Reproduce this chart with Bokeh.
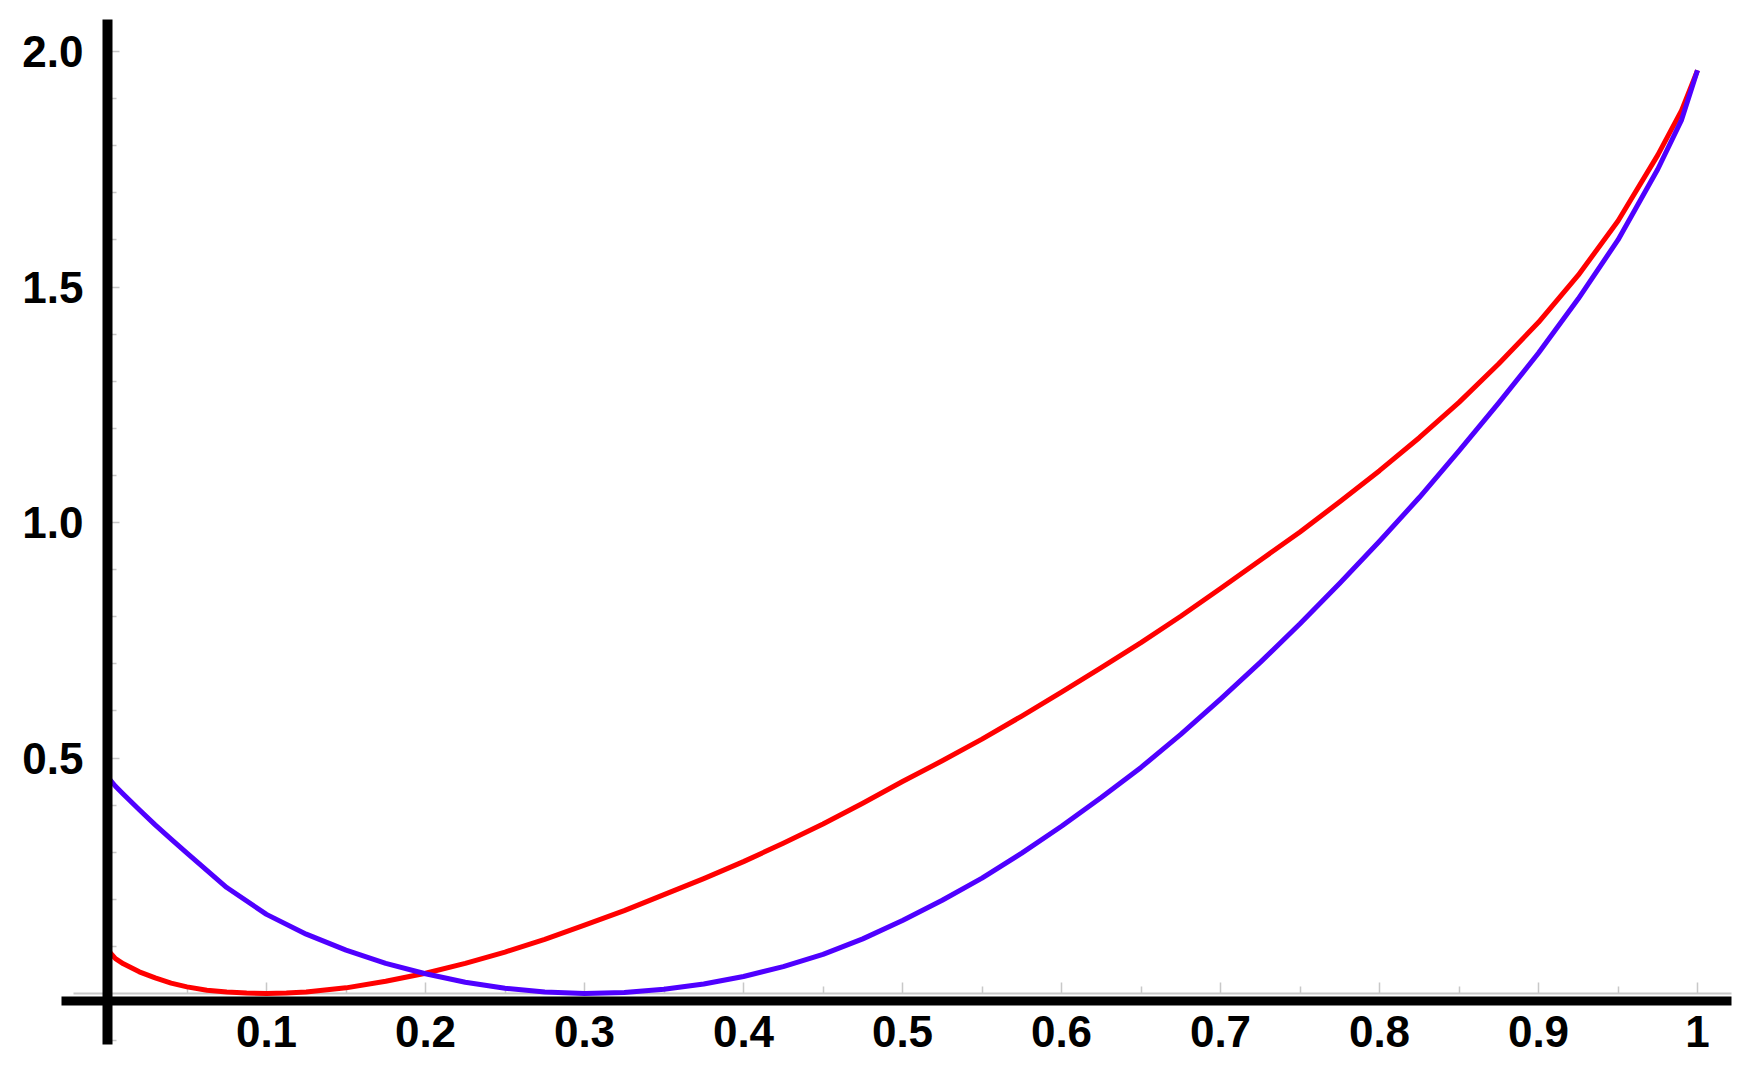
from bokeh.plotting import figure
from bokeh.models import Range1d, FixedTicker, LinearAxis, ColumnDataSource
from bokeh.embed import file_html
from bokeh.resources import INLINE

# ---- data ----
red_x = [0, 0.005, 0.01, 0.02, 0.03, 0.04, 0.05, 0.0625, 0.075, 0.0875, 0.1, 0.1125,
         0.125, 0.15, 0.175, 0.2, 0.225, 0.25, 0.275, 0.3, 0.325, 0.35, 0.375, 0.4,
         0.425, 0.45, 0.475, 0.5, 0.525, 0.55, 0.575, 0.6, 0.625, 0.65, 0.675, 0.7,
         0.725, 0.75, 0.775, 0.8, 0.825, 0.85, 0.875, 0.9, 0.925, 0.95, 0.975, 0.99, 1.0]
red_y = [0.093, 0.074, 0.063, 0.046, 0.033, 0.022, 0.014, 0.007, 0.003, 0.001, 0.0, 0.001,
         0.003, 0.012, 0.026, 0.043, 0.064, 0.088, 0.115, 0.145, 0.176, 0.21, 0.244, 0.28,
         0.319, 0.36, 0.404, 0.45, 0.494, 0.54, 0.589, 0.64, 0.692, 0.745, 0.801, 0.86,
         0.92, 0.98, 1.044, 1.11, 1.18, 1.255, 1.337, 1.425, 1.525, 1.64, 1.78, 1.875, 1.96]

blue_x = [0, 0.005, 0.01, 0.02, 0.03, 0.04, 0.05, 0.075, 0.1, 0.125, 0.15, 0.175, 0.2,
          0.225, 0.25, 0.275, 0.3, 0.325, 0.35, 0.375, 0.4, 0.425, 0.45, 0.475, 0.5,
          0.525, 0.55, 0.575, 0.6, 0.625, 0.65, 0.675, 0.7, 0.725, 0.75, 0.775, 0.8,
          0.825, 0.85, 0.875, 0.9, 0.925, 0.95, 0.975, 0.99, 1.0]
blue_y = [0.46, 0.44, 0.423, 0.39, 0.358, 0.328, 0.298, 0.225, 0.168, 0.126, 0.092, 0.064, 0.042,
          0.024, 0.011, 0.003, 0.0, 0.002, 0.009, 0.02, 0.036, 0.057, 0.083, 0.116, 0.155,
          0.198, 0.245, 0.298, 0.355, 0.416, 0.48, 0.55, 0.625, 0.703, 0.785, 0.871, 0.96,
          1.053, 1.152, 1.254, 1.36, 1.475, 1.60, 1.75, 1.855, 1.96]

x_ticks = [0.1, 0.2, 0.3, 0.4, 0.5, 0.6, 0.7, 0.8, 0.9, 1.0]
x_tick_labels = ["0.1", "0.2", "0.3", "0.4", "0.5", "0.6", "0.7", "0.8", "0.9", "1"]
x_minor = [0.0, 0.05, 0.15, 0.25, 0.35, 0.45, 0.55, 0.65, 0.75, 0.85, 0.95]
y_ticks = [0.5, 1.0, 1.5, 2.0]
y_tick_labels = ["0.5", "1.0", "1.5", "2.0"]
y_minor = [-0.1, 0.1, 0.2, 0.3, 0.4, 0.6, 0.7, 0.8, 0.9, 1.1, 1.2, 1.3, 1.4,
           1.6, 1.7, 1.8, 1.9]

# ---- layout calibration (pixels, page coordinates) ----
W, H = 1740, 1062
X0_PX, PX_PER_X = 107.0, 1590.0   # px of x=0
Y0_PX, PX_PER_Y = 993.0, 471.0    # px (from top) of y=0

def dx(px):
    return (px - X0_PX) / PX_PER_X

def dy(py):
    return (Y0_PX - py) / PX_PER_Y

p = figure(width=W, height=H, output_backend="svg", toolbar_location=None,
           x_range=Range1d(dx(0), dx(W)), y_range=Range1d(dy(H), dy(0)),
           x_axis_location=None, y_axis_location=None, min_border=0)
p.min_border_left = p.min_border_right = p.min_border_top = p.min_border_bottom = 0
p.outline_line_color = None
p.grid.visible = False
p.background_fill_color = "white"

FONT = "Liberation Sans"
GRAY = "#c8c8c8"

xaxis = LinearAxis(fixed_location=0,
                   ticker=FixedTicker(ticks=x_ticks, minor_ticks=x_minor),
                   bounds=(dx(73), dx(1731)))
xaxis.major_label_overrides = dict(zip(x_ticks, x_tick_labels))
xaxis.axis_line_color = GRAY
xaxis.axis_line_width = 2
xaxis.major_tick_in = 11
xaxis.major_tick_out = 0
xaxis.minor_tick_in = 7
xaxis.minor_tick_out = 0
xaxis.major_tick_line_color = GRAY
xaxis.minor_tick_line_color = GRAY
xaxis.major_tick_line_width = 1.5
xaxis.minor_tick_line_width = 1.5
xaxis.major_label_standoff = 22
xaxis.major_label_text_font = FONT
xaxis.major_label_text_font_style = "bold"
xaxis.major_label_text_font_size = "44px"
xaxis.major_label_text_color = "black"
p.add_layout(xaxis, "below")

yaxis = LinearAxis(fixed_location=0,
                   ticker=FixedTicker(ticks=y_ticks, minor_ticks=y_minor),
                   bounds=(dy(1042), dy(51)))
yaxis.major_label_overrides = dict(zip(y_ticks, y_tick_labels))
yaxis.axis_line_color = None
yaxis.major_tick_in = 12
yaxis.major_tick_out = 0
yaxis.minor_tick_in = 9
yaxis.minor_tick_out = 0
yaxis.major_tick_line_color = GRAY
yaxis.minor_tick_line_color = GRAY
yaxis.major_tick_line_width = 1.5
yaxis.minor_tick_line_width = 1.5
yaxis.major_label_standoff = 24
yaxis.major_label_text_font = FONT
yaxis.major_label_text_font_style = "bold"
yaxis.major_label_text_font_size = "44px"
yaxis.major_label_text_color = "black"
p.add_layout(yaxis, "left")

red_src = ColumnDataSource(data=dict(x=red_x, y=red_y))
blue_src = ColumnDataSource(data=dict(x=blue_x, y=blue_y))
p.line("x", "y", source=red_src, line_color="#ff0000", line_width=5,
       line_join="round", level="overlay")
p.line("x", "y", source=blue_src, line_color="#4f00ff", line_width=5,
       line_join="round", level="overlay")

# thick black frame axes (Mathematica style)
p.segment(x0=[0], y0=[dy(19)], x1=[0], y1=[dy(1044)], line_color="black",
          line_width=10, line_cap="butt", level="overlay")
p.segment(x0=[dx(61)], y0=[dy(1000.5)], x1=[dx(1731)], y1=[dy(1000.5)], line_color="black",
          line_width=9, line_cap="butt", level="overlay")

open("out.html", "w").write(file_html(p, INLINE))
